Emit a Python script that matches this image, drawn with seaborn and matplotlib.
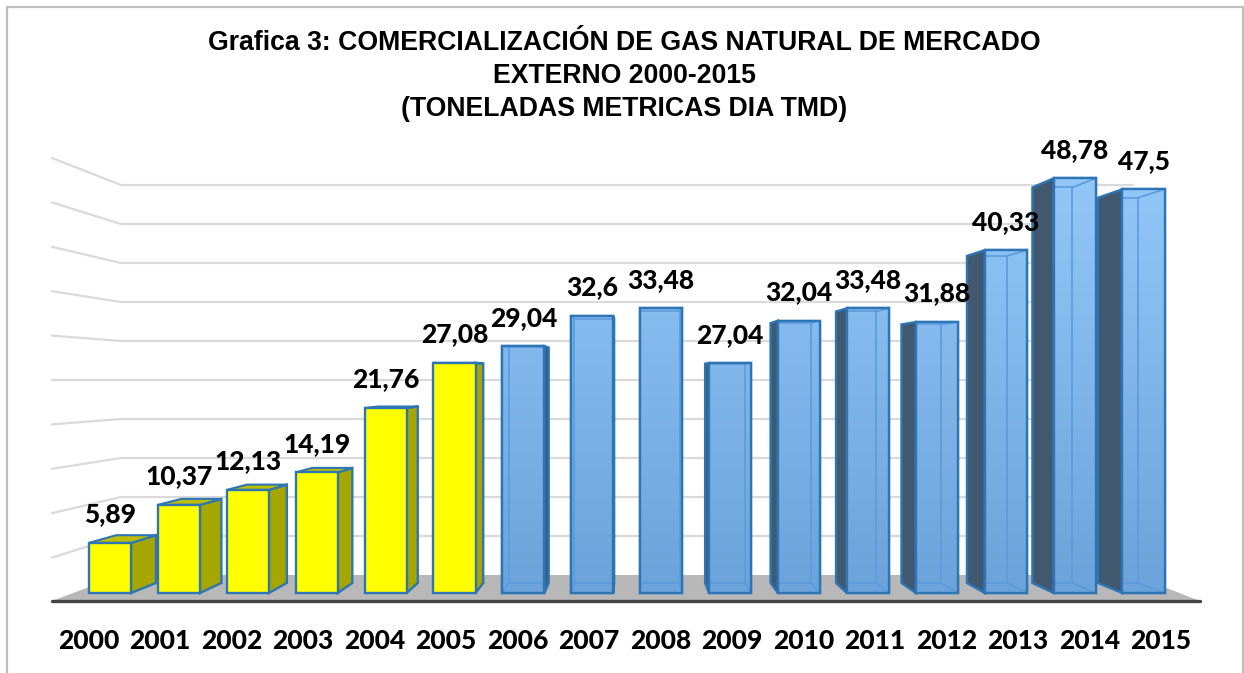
import numpy as np
import pandas as pd
import seaborn as sns
import matplotlib.pyplot as plt
from matplotlib.patches import Polygon
from matplotlib.colors import LinearSegmentedColormap

years = ['2000', '2001', '2002', '2003', '2004', '2005', '2006', '2007',
         '2008', '2009', '2010', '2011', '2012', '2013', '2014', '2015']
values = [5.89, 10.37, 12.13, 14.19, 21.76, 27.08, 29.04, 32.6,
          33.48, 27.04, 32.04, 33.48, 31.88, 40.33, 48.78, 47.5]
groups = ['a'] * 6 + ['b'] * 10
title = ('Grafica 3: COMERCIALIZACIÓN DE GAS NATURAL DE MERCADO\n'
         'EXTERNO 2000-2015\n(TONELADAS METRICAS DIA TMD)')

EDGE = '#2E75B6'

sns.set_theme(style='white')
plt.rcParams['font.family'] = ['Lato', 'DejaVu Sans']
fig, ax = plt.subplots(figsize=(12.44, 6.73), dpi=100)
ax.set_position([0, 0, 1, 1])


# picture pixels -> data units
def xd(px):
    return (px - 110) / 68.9


def yd(py):
    return (593 - py) / 8.5


# depth of the fake 3d, everything shrinks toward one vanishing point
def back(x, y):
    return x + (xd(630) - x) * 0.05, y + (yd(375) - y) * 0.046


df = pd.DataFrame({'anio': years, 'valor': values, 'grupo': groups})
sns.barplot(data=df, x='anio', y='valor', hue='grupo', dodge=False, width=0.61,
            palette={'a': '#FFFF00', 'b': '#7DB2E8'}, legend=False,
            edgecolor=EDGE, linewidth=1.7, saturation=1, ax=ax, zorder=3)

# back wall grid and left wall
for k in range(10):
    ax.plot([xd(52), xd(121), xd(1133)],
            [yd(158 + 44.4 * k), yd(185 + 39 * k), yd(185 + 39 * k)],
            color='#DADADA', lw=1.6, zorder=1)

# floor
ax.add_patch(Polygon([(xd(52), yd(601)), (xd(121), yd(575)), (xd(1133), yd(575)),
                      (xd(1200), yd(601))], fc='#B8B8B8', ec='none', zorder=1.5))
ax.plot([xd(52), xd(1200)], [yd(601), yd(601)], color='#444444', lw=2.4, zorder=2.8)

cmap = LinearSegmentedColormap.from_list('azul', ['#93C7F8', '#6BA3DA'])
grad = np.linspace(0, 1, 256).reshape(-1, 1)

for bar in ax.patches:
    if not hasattr(bar, 'get_width') or bar.get_height() == 0:
        continue
    x0, w, h = bar.get_x(), bar.get_width(), bar.get_height()
    x1 = x0 + w
    yellow = bar.get_x() < 5.5
    side_c = '#A6A600' if yellow else '#41586F'
    top_c = '#BDBD00' if yellow else '#4F86BD'
    bx0, bt = back(x0, h)
    bx1, bb = back(x1, 0)
    # the side that shows depends on which side of the vanishing point
    edge = x1 if bx1 > x1 else x0
    bedge = bx1 if bx1 > x1 else bx0
    if abs(bx1 - x1) > 0.01 and x0 + w / 2 != 8:
        ax.add_patch(Polygon([(edge, 0), (bedge, bb), (bedge, bt), (edge, h)],
                             fc=side_c, ec=EDGE, lw=1.7, zorder=2.9))
    if yellow:
        ax.add_patch(Polygon([(x0, h), (bx0, bt), (bx1, bt), (x1, h)],
                             fc=top_c, ec=EDGE, lw=1.5, zorder=2.9))
    else:
        im = ax.imshow(grad, cmap=cmap, aspect='auto', zorder=3.1,
                       extent=(x0, x1, 0, yd(178)), vmin=0, vmax=1)
        im.set_clip_path(bar)
        # inner lines of the see-through box
        lines = [([bx1, bx1], [bb, bt]), ([bx0, bx1], [bt, bt]), ([bx0, bx1], [bb, bb]),
                 ([x1, bx1], [0, bb]), ([x1, bx1], [h, bt])]
        if bx1 > x1:
            lines = [([bx0, bx0], [bb, bt]), ([bx0, bx1], [bt, bt]), ([bx0, bx1], [bb, bb]),
                     ([x0, bx0], [0, bb]), ([x0, bx0], [h, bt])]
        for lx, ly in lines:
            if bx0 < x1 and bx1 > x0:
                ax.plot(np.clip(lx, x0, x1), np.clip(ly, 0, h), color='#5B9BDE', lw=1.2, zorder=3.2)
        ax.add_patch(Polygon([(x0, 0), (x0, h), (x1, h), (x1, 0)], fc='none', ec=EDGE, lw=1.7, zorder=3.3))

for i, v in enumerate(values):
    ax.annotate(str(v).replace('.', ','), (i, v), xytext=(0, 20.5), textcoords='offset points',
                ha='center', va='center', fontsize=19, fontweight=900, color='black', zorder=5)

# the year labels sit on the wider front edge of the floor, not under the bars
ax.set_xticks([xd(88.5 + 71.5 * i) for i in range(len(years))], labels=years)
ax.tick_params(axis='x', length=0, pad=-32, labelsize=19, labelcolor='black')
for t in ax.get_xticklabels():
    t.set_fontweight(900)
ax.set_yticks([])
ax.set_xlabel('')
ax.set_ylabel('')
sns.despine(ax=ax, left=True, bottom=True)

# chart frame
ax.plot([xd(7), xd(7), xd(1243), xd(1243)], [yd(673), yd(7), yd(7), yd(673)],
        color='#BFBFBF', lw=1.6, zorder=6)

ax.set_xlim(xd(0), xd(1244))
ax.set_ylim(yd(673), yd(0))

fig.text(624.5 / 1244, 1 - 76 / 673, title, ha='center', va='center', fontsize=19.2,
         fontweight='bold', family='Liberation Sans', color='black', linespacing=1.37)

fig.savefig('out.png', dpi=100)
